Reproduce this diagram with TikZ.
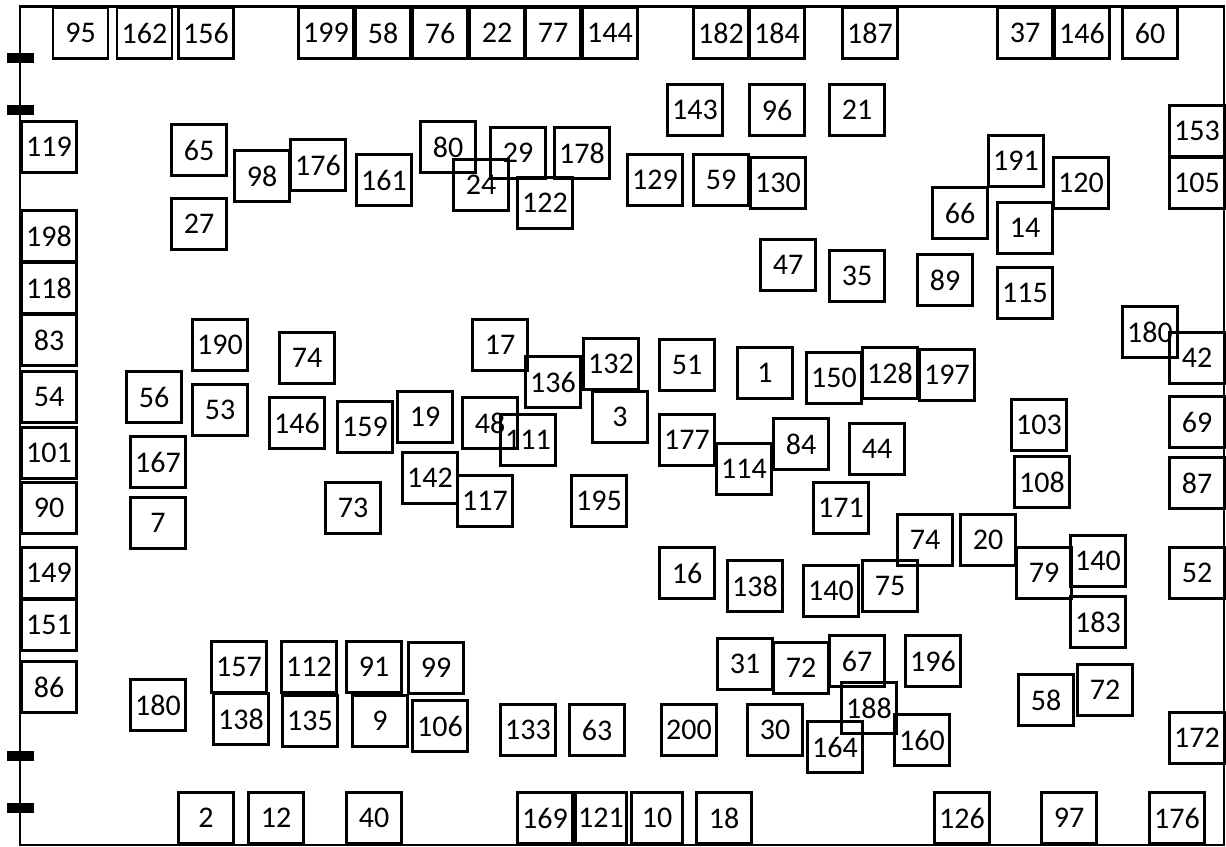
\documentclass[tikz,border=0pt]{standalone}
\usepackage{fontspec}
\setmainfont{Carlito}
\usepackage{tikz}
\tikzstyle{cell} = [rectangle, draw, line width=1.1pt, minimum width=27.5pt, minimum height=25.5pt, inner sep=0pt, font=\fontsize{15}{17}\selectfont]
\tikzstyle{narrow} = [cell, minimum width=25.5pt]
\tikzstyle{wall} = [draw, line width=1.1pt]
\tikzstyle{gate} = [rectangle, fill=black, minimum width=13.5pt, minimum height=5pt, inner sep=0pt]

\begin{document}
\begin{tikzpicture}[x=0.5pt, y=-0.5pt]
    \useasboundingbox (0,0) rectangle (1226,846);
    % outer wall
    \draw[wall] (20,6.5) rectangle (1224,845);
    \node[gate] (g1) at (20.5,57.5) {};
    \node[gate] (g2) at (20.5,109.5) {};
    \node[gate] (g3) at (20.5,756) {};
    \node[gate] (g4) at (20.5,808) {};
    % top row
    \node[cell] at (80.5,33) (n95) {95};
    \node[cell] at (144.5,33) (n162) {162};
    \node[cell] at (206,33) (n156) {156};
    \node[cell] at (326,33) (n199) {199};
    \node[cell] at (383,33) (n58a) {58};
    \node[cell] at (440,33) (n76) {76};
    \node[cell] at (497,33) (n22) {22};
    \node[cell] at (553,33) (n77) {77};
    \node[cell] at (610,33) (n144) {144};
    \node[cell] at (721,33) (n182) {182};
    \node[cell] at (777,33) (n184) {184};
    \node[cell] at (870,33) (n187) {187};
    \node[cell] at (1025,33) (n37) {37};
    \node[cell] at (1082,33) (n146a) {146};
    \node[cell] at (1150,33) (n60) {60};
    % left column
    \node[cell] at (49,147) (n119) {119};
    \node[cell] at (49,236) (n198) {198};
    \node[cell] at (49,288) (n118) {118};
    \node[cell] at (49,340) (n83) {83};
    \node[cell] at (49,397) (n54) {54};
    \node[cell] at (49,453) (n101) {101};
    \node[cell] at (49,508) (n90) {90};
    \node[cell] at (49,573) (n149) {149};
    \node[cell] at (49,625) (n151) {151};
    \node[cell] at (49,687) (n86) {86};
    % right column
    \node[cell] at (1197,131) (n153) {153};
    \node[cell] at (1197,183) (n105) {105};
    \node[cell] at (1197,358) (n42) {42};
    \node[cell] at (1197,422) (n69) {69};
    \node[cell] at (1197,483) (n87) {87};
    \node[cell] at (1197,573) (n52) {52};
    \node[cell] at (1197,738) (n172) {172};
    % bottom row
    \node[cell] at (206,818) (n2) {2};
    \node[cell] at (276,818) (n12) {12};
    \node[cell] at (374,818) (n40) {40};
    \node[cell] at (545,818) (n169) {169};
    \node[narrow] at (601,818) (n121) {121};
    \node[narrow] at (657,818) (n10) {10};
    \node[cell] at (724,818) (n18) {18};
    \node[cell] at (962,818) (n126) {126};
    \node[cell] at (1069,818) (n97) {97};
    \node[cell] at (1177,818) (n176b) {176};
    % upper field
    \node[cell] at (199,150) (n65) {65};
    \node[cell] at (199,224) (n27) {27};
    \node[cell] at (262,176) (n98) {98};
    \node[cell] at (318,165) (n176a) {176};
    \node[cell] at (384,180) (n161) {161};
    \node[cell] at (448,147) (n80) {80};
    \node[cell] at (481,185) (n24) {24};
    \node[cell] at (518,153) (n29) {29};
    \node[cell] at (582,153) (n178) {178};
    \node[cell] at (545,203) (n122) {122};
    \node[cell] at (655,180) (n129) {129};
    \node[cell] at (721,180) (n59) {59};
    \node[cell] at (778,183) (n130) {130};
    \node[cell] at (695,110) (n143) {143};
    \node[cell] at (777,110) (n96) {96};
    \node[cell] at (857,110) (n21) {21};
    \node[cell] at (1016,161) (n191) {191};
    \node[cell] at (1081,183) (n120) {120};
    \node[cell] at (960,213) (n66) {66};
    \node[cell] at (1025,228) (n14) {14};
    \node[cell] at (1025,293) (n115) {115};
    \node[cell] at (945,280) (n89) {89};
    \node[cell] at (857,276) (n35) {35};
    \node[cell] at (788,265) (n47) {47};
    % middle field
    \node[cell] at (220,345) (n190) {190};
    \node[cell] at (307,358) (n74a) {74};
    \node[cell] at (154,397) (n56) {56};
    \node[cell] at (220,410) (n53) {53};
    \node[cell] at (297,423) (n146b) {146};
    \node[cell] at (365,427) (n159) {159};
    \node[cell] at (158,462) (n167) {167};
    \node[cell] at (158,523) (n7) {7};
    \node[cell] at (353,508) (n73) {73};
    \node[cell] at (500,345) (n17) {17};
    \node[cell] at (553,382) (n136) {136};
    \node[cell] at (611,364) (n132) {132};
    \node[cell] at (620,417) (n3) {3};
    \node[cell] at (687,365) (n51) {51};
    \node[cell] at (765,373) (n1) {1};
    \node[cell] at (425,417) (n19) {19};
    \node[cell] at (490,423) (n48) {48};
    \node[cell] at (528,440) (n111) {111};
    \node[cell] at (430,478) (n142) {142};
    \node[cell] at (485,501) (n117) {117};
    \node[cell] at (599,501) (n195) {195};
    \node[cell] at (687,440) (n177) {177};
    \node[cell] at (744,469) (n114) {114};
    \node[cell] at (801,444) (n84) {84};
    \node[cell] at (687,573) (n16) {16};
    \node[cell] at (755,586) (n138b) {138};
    \node[cell] at (1150,332) (n180a) {180};
    \node[cell] at (834,378) (n150) {150};
    \node[cell] at (890,373) (n128) {128};
    \node[cell] at (947,375) (n197) {197};
    \node[cell] at (1039,425) (n103) {103};
    \node[cell] at (1042,482) (n108) {108};
    \node[cell] at (877,449) (n44) {44};
    \node[cell] at (841,508) (n171) {171};
    \node[cell] at (925,540) (n74b) {74};
    \node[cell] at (988,540) (n20) {20};
    \node[cell] at (1044,573) (n79) {79};
    \node[cell] at (1098,561) (n140b) {140};
    \node[cell] at (890,586) (n75) {75};
    \node[cell] at (831,591) (n140a) {140};
    % lower field
    \node[cell] at (158,705) (n180b) {180};
    \node[cell] at (239,667) (n157) {157};
    \node[cell] at (241,719) (n138a) {138};
    \node[cell] at (309,667) (n112) {112};
    \node[cell] at (310,721) (n135) {135};
    \node[cell] at (374,667) (n91) {91};
    \node[cell] at (380,721) (n9) {9};
    \node[cell] at (436,668) (n99) {99};
    \node[cell] at (440,726) (n106) {106};
    \node[cell] at (528,730) (n133) {133};
    \node[cell] at (597,730) (n63) {63};
    \node[cell] at (689,730) (n200) {200};
    \node[cell] at (775,730) (n30) {30};
    \node[cell] at (745,664) (n31) {31};
    \node[cell] at (801,668) (n72a) {72};
    \node[cell] at (857,661) (n67) {67};
    \node[cell] at (933,661) (n196) {196};
    \node[cell] at (869,708) (n188) {188};
    \node[cell] at (835,747) (n164) {164};
    \node[cell] at (922,740) (n160) {160};
    \node[cell] at (1098,622) (n183) {183};
    \node[cell] at (1046,700) (n58b) {58};
    \node[cell] at (1105,690) (n72b) {72};
\end{tikzpicture}
\end{document}
